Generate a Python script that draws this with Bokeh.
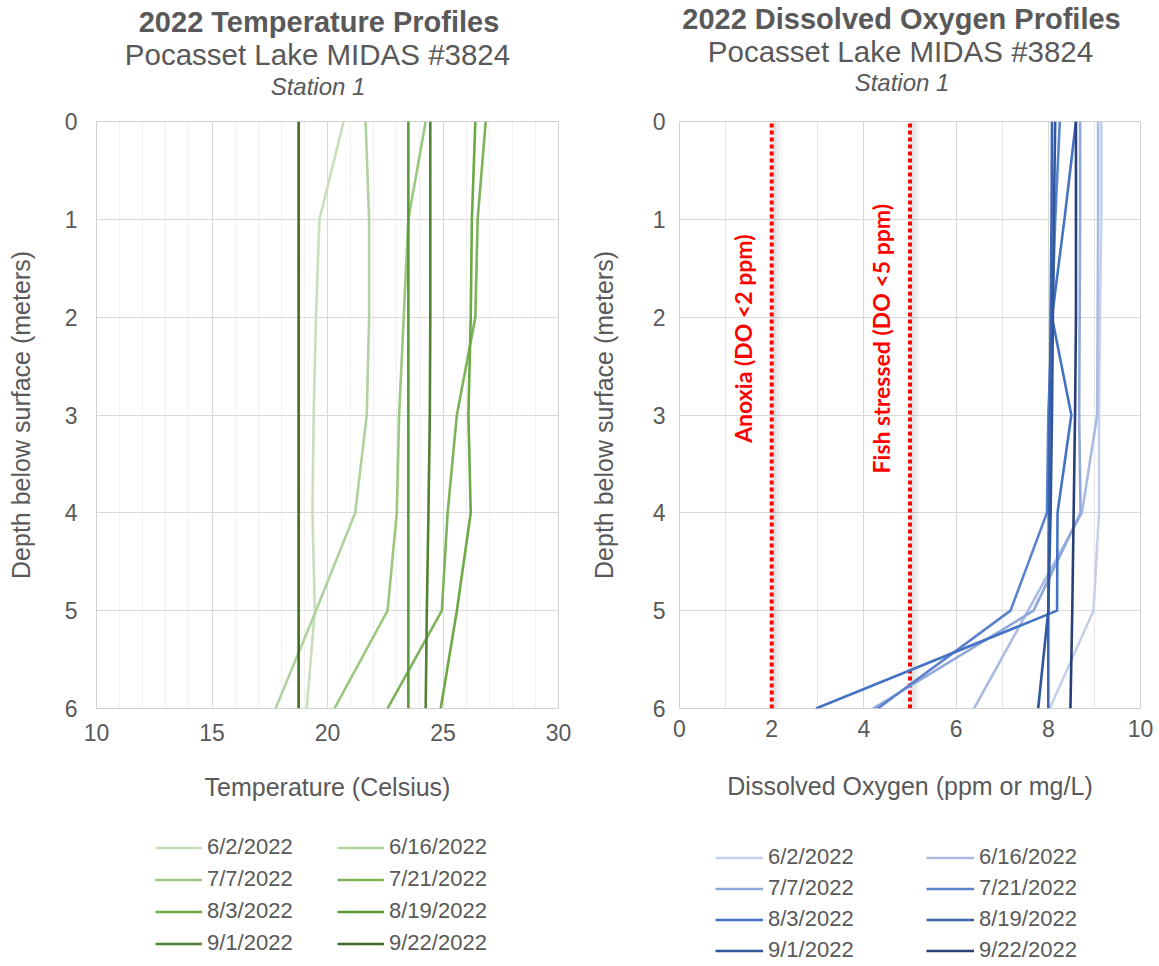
import numpy as np
from bokeh.plotting import figure
from bokeh.models import (Range1d, SingleIntervalTicker, Legend, LegendItem, Label,
                          ColumnDataSource)
from bokeh.layouts import row, column
from bokeh.embed import file_html
from bokeh.resources import INLINE
from bokeh.transform import dodge

# ---------------- data ----------------
dates = ["6/2/2022", "6/16/2022", "7/7/2022", "7/21/2022",
         "8/3/2022", "8/19/2022", "9/1/2022", "9/22/2022"]
depth = [0, 1, 2, 3, 4, 5, 6]

temp_0602 = [20.7, 19.65, 19.5, 19.4, 19.35, 19.45, 19.1]
temp_0616 = [21.65, 21.8, 21.8, 21.7, 21.2, 19.5, 17.75]
temp_0707 = [24.25, 23.5, 23.3, 23.1, 23.0, 22.6, 20.3]
temp_0721 = [26.85, 26.5, 26.4, 25.6, 25.2, 24.95, 22.6]
temp_0803 = [26.4, 26.25, 26.2, 26.1, 26.2, 25.6, 24.9]
temp_0819 = [23.5, 23.5, 23.5, 23.5, 23.5, 23.5, 23.5]
temp_0901 = [24.45, 24.45, 24.45, 24.43, 24.37, 24.3, 24.25]
temp_0922 = [18.75, 18.75, 18.75, 18.75, 18.75, 18.75, 18.75]

do_0602 = [9.15, 9.15, 9.12, 9.1, 9.1, 8.98, 8.03]
do_0616 = [9.08, 9.08, 9.07, 9.06, 8.73, 7.56, 6.39]
do_0707 = [8.69, 8.69, 8.68, 8.67, 8.7, 7.68, 4.2]
do_0721 = [8.25, 8.15, 8.08, 8.0, 7.97, 7.18, 4.3]
do_0803 = [8.6, 8.35, 8.08, 8.5, 8.2, 8.19, 2.96]
do_0819 = [8.08, 8.07, 8.05, 8.03, 8.01, 8.0, 8.0]
do_0901 = [8.15, 8.12, 8.1, 8.08, 8.05, 8.0, 7.78]
do_0922 = [8.6, 8.6, 8.6, 8.58, 8.55, 8.52, 8.48]

do_thresholds = [2, 5]
threshold_labels = ["Anoxia (DO <2 ppm)", "Fish stressed (DO <5 ppm)"]

temp_titles = ["2022 Temperature Profiles", "Pocasset Lake MIDAS #3824", "Station 1"]
do_titles = ["2022 Dissolved Oxygen Profiles", "Pocasset Lake MIDAS #3824", "Station 1"]

temp_series = [temp_0602, temp_0616, temp_0707, temp_0721,
               temp_0803, temp_0819, temp_0901, temp_0922]
do_series = [do_0602, do_0616, do_0707, do_0721,
             do_0803, do_0819, do_0901, do_0922]

greens = ["#C9DFBC", "#B0D29C", "#9BC77F", "#7DB35A",
          "#6CA945", "#5C9939", "#4F8231", "#3E6B25"]
blues = ["#C5D0EA", "#A9BBE3", "#8FA7DA", "#5B82CC",
         "#4472C4", "#3A63B0", "#31569C", "#283F78"]

FONT = "Liberation Sans"
GRAY = "#595959"
HT = 107   # header strip height
HM = 719   # chart height
HL = 138   # legend strip height
W1, W2 = 586, 573


def strip_fig(width, height, xr, yr):
    f = figure(width=width, height=height, x_range=Range1d(*xr), y_range=Range1d(*yr),
               output_backend="svg", toolbar_location=None,
               x_axis_location=None, y_axis_location=None, min_border=0,
               outline_line_color=None, background_fill_color="white",
               border_fill_color="white")
    f.xgrid.visible = False
    f.ygrid.visible = False
    return f


def header_fig(width, titles, centers):
    f = strip_fig(width, HT, (0, width), (HT, 0))
    styles = [("29px", "bold"), ("29.5px", "normal"), ("24px", "italic")]
    for txt, (cx, cy), (size, style) in zip(titles, centers, styles):
        f.add_layout(Label(x=cx, y=cy, text=txt, text_align="center",
                           text_baseline="middle", text_font=FONT,
                           text_font_size=size, text_font_style=style,
                           text_color=GRAY))
    return f


def base_fig(width, xr, interval, n_minor, left, right, bottom, minor_color):
    p = figure(width=width, height=HM, x_range=Range1d(*xr), y_range=Range1d(6, 0),
               output_backend="svg", toolbar_location=None,
               min_border_left=left, min_border_right=right,
               min_border_top=14, min_border_bottom=bottom,
               outline_line_color="#D0D0D0", background_fill_color="white",
               border_fill_color="white")
    p.xaxis.ticker = SingleIntervalTicker(interval=interval, num_minor_ticks=n_minor)
    p.yaxis.ticker = SingleIntervalTicker(interval=1, num_minor_ticks=0)
    p.xgrid.grid_line_color = "#D9D9D9"
    p.xgrid.minor_grid_line_color = minor_color
    p.ygrid.grid_line_color = "#D9D9D9"
    for ax in (p.xaxis[0], p.yaxis[0]):
        ax.axis_line_color = None
        ax.major_tick_line_color = None
        ax.minor_tick_line_color = None
        ax.major_label_text_font = FONT
        ax.major_label_text_font_size = "23px"
        ax.major_label_text_color = GRAY
        ax.axis_label_text_font = FONT
        ax.axis_label_text_font_size = "25px"
        ax.axis_label_text_font_style = "normal"
        ax.axis_label_text_color = GRAY
    return p


def legend_fig(width, series, colors, loc, glyph_w, label_w, spacing):
    # lines are drawn outside the visible ranges; only their legend swatches show
    f = strip_fig(width, HL, (-2, -1), (-2, -1))
    rs = [f.line(vals, depth, line_color=c, line_width=2.6)
          for vals, c in zip(series, colors)]
    items = [LegendItem(label=d, renderers=[r]) for d, r in zip(dates, rs)]
    leg = Legend(items=items, ncols=2, orientation="horizontal", location=loc,
                 label_text_font=FONT, label_text_font_size="22px",
                 label_text_color=GRAY, glyph_width=glyph_w, glyph_height=25,
                 label_height=25, label_standoff=5, label_width=label_w,
                 spacing=spacing, padding=0, margin=0, border_line_alpha=0,
                 background_fill_alpha=0)
    f.add_layout(leg, "center")
    return f


# ---------------- headers ----------------
h1 = header_fig(W1, temp_titles, [(318.5, 21), (317, 54), (317.5, 86)])
h2 = header_fig(W2, do_titles, [(315, 18), (314, 51), (315.5, 82)])

# ---------------- temperature ----------------
p1 = base_fig(W1, (10, 30), 5, 5, 96, 28, HM - (708 - HT), "#F0F0F0")
p1.xaxis.axis_label = "Temperature (Celsius)"
p1.yaxis.axis_label = "Depth below surface (meters)"
p1.xaxis.major_label_standoff = 9
p1.xaxis.axis_label_standoff = 29
p1.yaxis.major_label_standoff = 13
p1.yaxis.axis_label_standoff = 27
for vals, c in zip(temp_series, greens):
    p1.line(vals, depth, line_color=c, line_width=2.6)

# ---------------- dissolved oxygen ----------------
p2 = base_fig(W2, (0, 10), 2, 2, 92, 19, HM - (712 - HT), "#E6E6E6")
p2.xaxis.axis_label = "Dissolved Oxygen (ppm or mg/L)"
p2.yaxis.axis_label = "Depth below surface (meters)"
p2.xaxis.major_label_standoff = 5
p2.xaxis.axis_label_standoff = 32
p2.yaxis.major_label_standoff = 8
p2.yaxis.axis_label_standoff = 32

src = ColumnDataSource(dict(x=do_thresholds,
                            y0=[depth[-1]] * len(do_thresholds),
                            y1=[depth[0]] * len(do_thresholds)))
for off, w, a in [(0.05, 4, 0.07), (0.10, 5, 0.05), (0.16, 5, 0.03)]:
    d = dodge("x", off, range=p2.x_range)
    p2.segment(x0=d, y0="y0", x1=d, y1="y1", source=src,
               line_color="black", line_alpha=a, line_width=w)
p2.segment(x0="x", y0="y0", x1="x", y1="y1", source=src, line_color="#FF0000",
           line_width=4, line_dash="4 3")
for xv, txt in zip(do_thresholds, threshold_labels):
    p2.add_layout(Label(x=xv, y=2.22, x_offset=-29, text=txt, angle=np.pi / 2,
                        text_align="center", text_baseline="middle",
                        text_color="#FF0000", text_font="Lato",
                        text_font_style="bold", text_font_size="23px"))

for vals, c in zip(do_series, blues):
    p2.line(vals, depth, line_color=c, line_width=2.6)

# ---------------- legends ----------------
l1 = legend_fig(W1, temp_series, greens, (155, 8), 47, 124, 6)
l2 = legend_fig(W2, do_series, blues, (129, 1), 48, 153, 5)

layout = column(row(h1, h2), row(p1, p2), row(l1, l2))
open("out.html", "w").write(file_html(layout, INLINE))
